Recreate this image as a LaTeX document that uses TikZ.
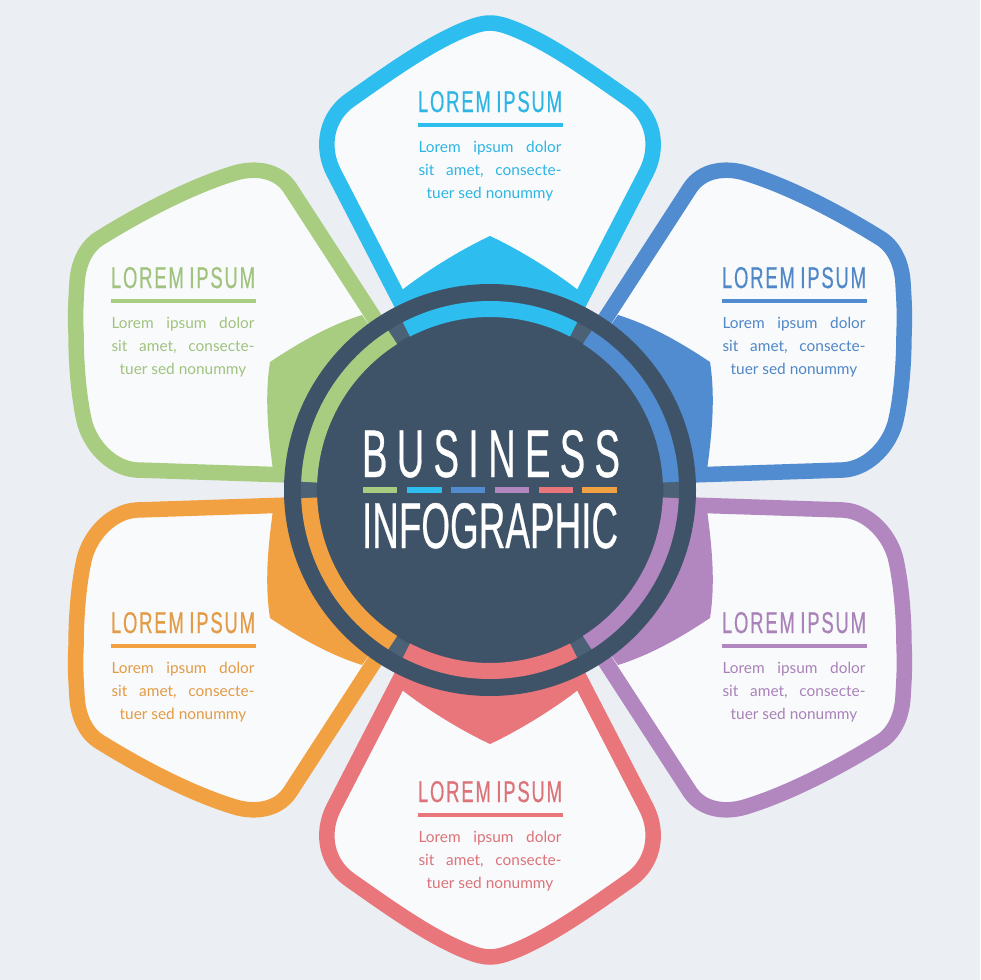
\documentclass[tikz,border=0pt]{standalone}
\usepackage{fontspec}
\usepackage{graphicx}
\setmainfont{Lato}
\newfontfamily\titlef{Liberation Sans}[FakeBold=0.6]
\newfontfamily\titlesp{Liberation Sans}[LetterSpace=10,FakeBold=0.5]
\newfontfamily\titlewide{Liberation Sans}[LetterSpace=24,FakeBold=0.6]
\newfontfamily\bodyf{Lato}
\definecolor{bg}{HTML}{EBEEF3}
\definecolor{paper}{HTML}{F9FAFC}
\definecolor{dark}{HTML}{3E5368}
\definecolor{gapc}{HTML}{4B6175}
\definecolor{cyanp}{HTML}{2DBDEE}
\definecolor{bluep}{HTML}{508CCF}
\definecolor{purplep}{HTML}{B286BF}
\definecolor{redp}{HTML}{E9767B}
\definecolor{orangep}{HTML}{F1A142}
\definecolor{greenp}{HTML}{A8CD80}
\tikzset{
  petal/.style={line width=15.5pt,line join=round,fill=paper},
  hubring/.style={line width=16pt},
  barline/.style={inner sep=0pt,minimum height=6pt,minimum width=34.5pt},
  heading/.style={inner sep=0pt,anchor=base},
  bodyline/.style={inner sep=0pt,anchor=base,font=\bodyf\fontsize{15.4}{17}\selectfont},
  bigtext/.style={inner sep=0pt,anchor=base,text=white}
}
% top petal, relative to the hub centre
\newcommand{\toppetal}[1]{%
  \draw[petal,draw=#1] (-77,-164) -- (-156,-317)
    .. controls (-170,-344) and (-163,-374) .. (-140,-390)
    .. controls (-103,-416) and (-60,-447) .. (-23,-461.5)
    .. controls (-15,-464.5) and (-8,-467) .. (0,-467)
    .. controls (8,-467) and (15,-464.5) .. (23,-461.5)
    .. controls (60,-447) and (103,-416) .. (140,-390)
    .. controls (163,-374) and (170,-344) .. (156,-317)
    -- (77,-164) -- cycle;
  \fill[#1] (0,-254) .. controls (-30,-240) and (-65,-218) .. (-88,-200)
    -- (-88,-170) -- (88,-170) -- (88,-200)
    .. controls (65,-218) and (30,-240) .. (0,-254) -- cycle;
}
% left-hand petal, relative to the hub centre
\newcommand{\sidepetal}[1]{%
  \draw[petal,draw=#1] (-170,-14) -- (-353,-20)
    .. controls (-375,-21) and (-397,-40) .. (-405,-66)
    .. controls (-411,-90) and (-414,-125) .. (-414,-157)
    .. controls (-415,-175) and (-414,-190) .. (-413,-207)
    .. controls (-412,-225) and (-405,-243) .. (-390,-252)
    .. controls (-345,-280) and (-295,-305) .. (-255,-317)
    .. controls (-235,-323) and (-212,-320) .. (-200,-302)
    -- (-95,-140) -- cycle;
  \fill[#1] (-220,-128) .. controls (-190,-148) and (-160,-165) .. (-128,-175)
    -- (-110,-150) -- (-150,-100) -- (-190,-14) -- (-217,-20)
    .. controls (-221,-50) and (-226,-90) .. (-220,-128) -- cycle;
}
% text block: name, centre x, title baseline, colour
\newcommand{\infoblock}[4]{%
  \node[heading,text=#4!92!dark] (#1title) at (#2,#3)
    {\resizebox{144pt}{21pt}{\titlesp LOREM\kern0.3em{}IPSUM}};
  \coordinate (#1a) at (#2-72.5,#3+13);
  \coordinate (#1b) at (#2+72.5,#3+13);
  \draw[#4,line width=3.5pt] (#1a) -- (#1b);
  \node[bodyline,text=#4!92!dark] (#1one) at (#2,#3+40.5)
    {\makebox[143pt][s]{Lorem\hfill ipsum\hfill dolor}};
  \node[bodyline,text=#4!92!dark] (#1two) at (#2,#3+63.5)
    {\makebox[143pt][s]{sit\hfill amet,\hfill consecte-}};
  \node[bodyline,text=#4!92!dark] (#1three) at (#2,#3+86.5) {tuer sed nonummy};
}
\begin{document}
\begin{tikzpicture}[x=1pt,y=-1pt]
\useasboundingbox (0,0) rectangle (980,980);
\fill[bg] (0,0) rectangle (980,980);
\begin{scope}[shift={(490,490)}]
  \toppetal{cyanp}
  \begin{scope}[yscale=-1]\toppetal{redp}\end{scope}
  \sidepetal{greenp}
  \begin{scope}[xscale=-1]\sidepetal{bluep}\end{scope}
  \begin{scope}[yscale=-1]\sidepetal{orangep}\end{scope}
  \begin{scope}[xscale=-1,yscale=-1]\sidepetal{purplep}\end{scope}
\end{scope}
\node[circle,fill=dark,minimum size=412pt,inner sep=0pt] (hub) at (490,490) {};
\begin{scope}[shift={(490,490)}]
  \draw[hubring,gapc] (0,0) circle[radius=181];
  \fill[dark] (0,0) circle[radius=173.5];
  \draw[hubring,cyanp]   (242.5:181) arc[start angle=242.5,end angle=297.5,radius=181];
  \draw[hubring,bluep]   (302.5:181) arc[start angle=302.5,end angle=357.5,radius=181];
  \draw[hubring,purplep] (2.5:181)   arc[start angle=2.5,end angle=57.5,radius=181];
  \draw[hubring,redp]    (62.5:181)  arc[start angle=62.5,end angle=117.5,radius=181];
  \draw[hubring,orangep] (122.5:181) arc[start angle=122.5,end angle=177.5,radius=181];
  \draw[hubring,greenp]  (182.5:181) arc[start angle=182.5,end angle=237.5,radius=181];
\end{scope}
\infoblock{top}{490}{112}{cyanp}
\infoblock{upleft}{183}{288}{greenp}
\infoblock{upright}{794}{288}{bluep}
\infoblock{lowleft}{183}{633}{orangep}
\infoblock{lowright}{794}{633}{purplep}
\infoblock{bottom}{490}{802}{redp}
\node[bigtext] (business) at (491,477) {\resizebox{258pt}{47pt}{\titlewide BUSINESS}};
\node[bigtext] (infographic) at (490,548) {\resizebox{256pt}{45pt}{\titlef INFOGRAPHIC}};
\node[barline,fill=greenp]  (bar1) at (380,490) {};
\node[barline,fill=cyanp]   (bar2) at (424.5,490) {};
\node[barline,fill=bluep]   (bar3) at (468,490) {};
\node[barline,fill=purplep] (bar4) at (512,490) {};
\node[barline,fill=redp]    (bar5) at (556,490) {};
\node[barline,fill=orangep] (bar6) at (599.5,490) {};
\end{tikzpicture}
\end{document}
